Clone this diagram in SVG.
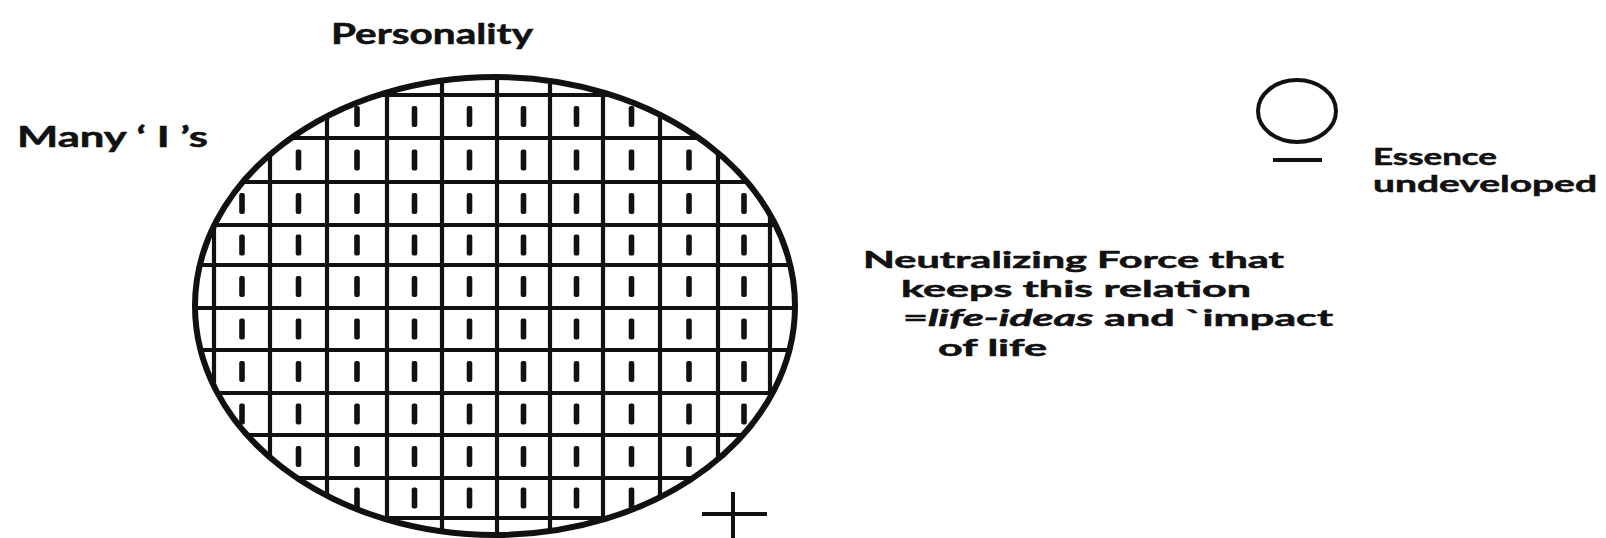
<svg xmlns="http://www.w3.org/2000/svg" xmlns:xlink="http://www.w3.org/1999/xlink" width="1606" height="538" viewBox="0 0 1606 538">
<style>
.lbl{font-family:Lato,"Open Sans","DejaVu Sans",sans-serif;font-weight:bold;fill:#111;stroke:#111;stroke-width:0.5}
.grid{stroke:#111;stroke-width:4.2;fill:none}
.outline{fill:none;stroke:#111;stroke-width:6}
.thin{fill:none;stroke:#111;stroke-width:4}
.mk{fill:#111}
</style>
<defs>
<clipPath id="pc"><ellipse cx="495" cy="306" rx="300" ry="229"/></clipPath>
<rect id="m" class="mk" x="-2.8" y="-10.5" width="5.6" height="21" rx="2"/>
</defs>
<rect width="1606" height="538" fill="#fff"/>

<g id="personality-label">
<text class="lbl" x="331" y="44" font-size="28" textLength="202" lengthAdjust="spacingAndGlyphs">Personality</text>
</g>

<g id="many-is-label">
<text class="lbl" x="17" y="147" font-size="29" textLength="191" lengthAdjust="spacingAndGlyphs">Many  ‘ I ’s</text>
</g>

<g id="personality">
<g clip-path="url(#pc)">
<g class="grid">
<path d="M214 70V540M270 70V540M327 70V540M387 70V540M442 70V540M497 70V540M550 70V540M603 70V540M660 70V540M718 70V540M770 70V540"/>
<path d="M190 95H800M190 138H800M190 182H800M190 225H800M190 265H800M190 308H800M190 350H800M190 393H800M190 435H800M190 478H800M190 518H800"/>
</g>
<g id="marks">
<use xlink:href="#m" x="357" y="116.5"/><use xlink:href="#m" x="414.5" y="116.5"/><use xlink:href="#m" x="469.5" y="116.5"/><use xlink:href="#m" x="523.5" y="116.5"/><use xlink:href="#m" x="576.5" y="116.5"/><use xlink:href="#m" x="631.5" y="116.5"/>
<use xlink:href="#m" x="298.5" y="160"/><use xlink:href="#m" x="357" y="160"/><use xlink:href="#m" x="414.5" y="160"/><use xlink:href="#m" x="469.5" y="160"/><use xlink:href="#m" x="523.5" y="160"/><use xlink:href="#m" x="576.5" y="160"/><use xlink:href="#m" x="631.5" y="160"/><use xlink:href="#m" x="689" y="160"/>
<use xlink:href="#m" x="242" y="203.5"/><use xlink:href="#m" x="298.5" y="203.5"/><use xlink:href="#m" x="357" y="203.5"/><use xlink:href="#m" x="414.5" y="203.5"/><use xlink:href="#m" x="469.5" y="203.5"/><use xlink:href="#m" x="523.5" y="203.5"/><use xlink:href="#m" x="576.5" y="203.5"/><use xlink:href="#m" x="631.5" y="203.5"/><use xlink:href="#m" x="689" y="203.5"/><use xlink:href="#m" x="744" y="203.5"/>
<use xlink:href="#m" x="242" y="245"/><use xlink:href="#m" x="298.5" y="245"/><use xlink:href="#m" x="357" y="245"/><use xlink:href="#m" x="414.5" y="245"/><use xlink:href="#m" x="469.5" y="245"/><use xlink:href="#m" x="523.5" y="245"/><use xlink:href="#m" x="576.5" y="245"/><use xlink:href="#m" x="631.5" y="245"/><use xlink:href="#m" x="689" y="245"/><use xlink:href="#m" x="744" y="245"/>
<use xlink:href="#m" x="242" y="286.5"/><use xlink:href="#m" x="298.5" y="286.5"/><use xlink:href="#m" x="357" y="286.5"/><use xlink:href="#m" x="414.5" y="286.5"/><use xlink:href="#m" x="469.5" y="286.5"/><use xlink:href="#m" x="523.5" y="286.5"/><use xlink:href="#m" x="576.5" y="286.5"/><use xlink:href="#m" x="631.5" y="286.5"/><use xlink:href="#m" x="689" y="286.5"/><use xlink:href="#m" x="744" y="286.5"/>
<use xlink:href="#m" x="242" y="329"/><use xlink:href="#m" x="298.5" y="329"/><use xlink:href="#m" x="357" y="329"/><use xlink:href="#m" x="414.5" y="329"/><use xlink:href="#m" x="469.5" y="329"/><use xlink:href="#m" x="523.5" y="329"/><use xlink:href="#m" x="576.5" y="329"/><use xlink:href="#m" x="631.5" y="329"/><use xlink:href="#m" x="689" y="329"/><use xlink:href="#m" x="744" y="329"/>
<use xlink:href="#m" x="242" y="371.5"/><use xlink:href="#m" x="298.5" y="371.5"/><use xlink:href="#m" x="357" y="371.5"/><use xlink:href="#m" x="414.5" y="371.5"/><use xlink:href="#m" x="469.5" y="371.5"/><use xlink:href="#m" x="523.5" y="371.5"/><use xlink:href="#m" x="576.5" y="371.5"/><use xlink:href="#m" x="631.5" y="371.5"/><use xlink:href="#m" x="689" y="371.5"/><use xlink:href="#m" x="744" y="371.5"/>
<use xlink:href="#m" x="242" y="414"/><use xlink:href="#m" x="298.5" y="414"/><use xlink:href="#m" x="357" y="414"/><use xlink:href="#m" x="414.5" y="414"/><use xlink:href="#m" x="469.5" y="414"/><use xlink:href="#m" x="523.5" y="414"/><use xlink:href="#m" x="576.5" y="414"/><use xlink:href="#m" x="631.5" y="414"/><use xlink:href="#m" x="689" y="414"/><use xlink:href="#m" x="744" y="414"/>
<use xlink:href="#m" x="298.5" y="456.5"/><use xlink:href="#m" x="357" y="456.5"/><use xlink:href="#m" x="414.5" y="456.5"/><use xlink:href="#m" x="469.5" y="456.5"/><use xlink:href="#m" x="523.5" y="456.5"/><use xlink:href="#m" x="576.5" y="456.5"/><use xlink:href="#m" x="631.5" y="456.5"/><use xlink:href="#m" x="689" y="456.5"/>
<use xlink:href="#m" x="357" y="498"/><use xlink:href="#m" x="414.5" y="498"/><use xlink:href="#m" x="469.5" y="498"/><use xlink:href="#m" x="523.5" y="498"/><use xlink:href="#m" x="576.5" y="498"/><use xlink:href="#m" x="631.5" y="498"/>
</g>
</g>
<ellipse class="outline" cx="495" cy="306" rx="300" ry="229"/>
</g>

<g id="plus-sign">
<path class="thin" stroke-width="5" d="M702 514H767M733 492V538"/>
</g>

<g id="essence">
<ellipse class="thin" cx="1297" cy="111" rx="39" ry="31"/>
<path class="thin" d="M1273 160H1322"/>
<text class="lbl" x="1373" y="165" font-size="23" textLength="124" lengthAdjust="spacingAndGlyphs">Essence</text>
<text class="lbl" x="1373" y="192" font-size="23" textLength="224" lengthAdjust="spacingAndGlyphs">undeveloped</text>
</g>

<g id="neutralizing-force">
<text class="lbl" x="863" y="268" font-size="22" textLength="421" lengthAdjust="spacingAndGlyphs">Neutralizing Force that</text>
<text class="lbl" x="901" y="297" font-size="22" textLength="350" lengthAdjust="spacingAndGlyphs">keeps this relation</text>
<text class="lbl" x="903" y="326" font-size="22" textLength="430" lengthAdjust="spacingAndGlyphs">=<tspan font-style="italic">life-ideas</tspan> and `impact</text>
<text class="lbl" x="938" y="356" font-size="22" textLength="109" lengthAdjust="spacingAndGlyphs">of life</text>
</g>
</svg>
